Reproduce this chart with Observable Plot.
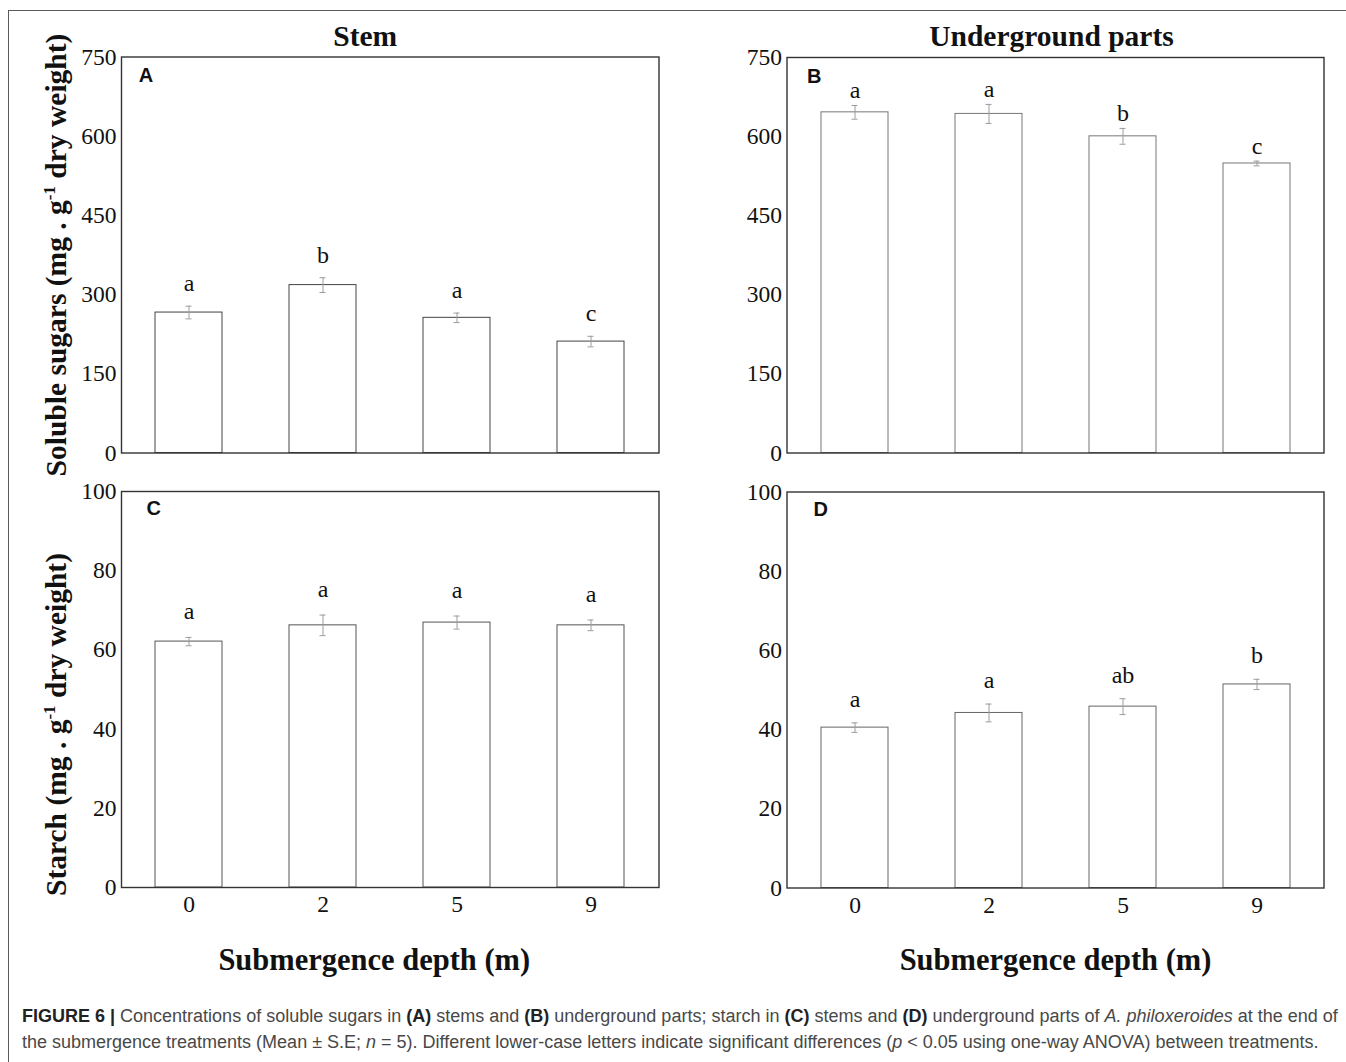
<!DOCTYPE html>
<html><head><meta charset="utf-8">
<script src="https://cdn.jsdelivr.net/npm/d3@7"></script>
<script src="https://cdn.jsdelivr.net/npm/@observablehq/plot@0.6"></script>
<style>
body{margin:0;background:#fff;}
#wrap{position:relative;width:1346px;height:1062px;overflow:hidden;background:#fff;}
#wrap svg{position:absolute;left:0;top:0;background:transparent;}
#border{position:absolute;left:8px;top:10px;width:1360px;height:1100px;border-top:1.5px solid #5a5a5a;border-left:1.5px solid #5a5a5a;}
#caption{position:absolute;left:22px;top:1003px;font-family:"Liberation Sans",Arial,sans-serif;font-size:18px;line-height:26px;color:#484848;white-space:nowrap;}
#caption b{color:#222;}
</style></head><body>
<div id="wrap"><div id="border"></div>
<div id="caption"><b>FIGURE 6 |</b> Concentrations of soluble sugars in <b>(A)</b> stems and <b>(B)</b> underground parts; starch in <b>(C)</b> stems and <b>(D)</b> underground parts of <i>A. philoxeroides</i> at the end of<br>the submergence treatments (Mean ± S.E; <i>n</i> = 5). Different lower-case letters indicate significant differences (<i>p</i> &lt; 0.05 using one-way ANOVA) between treatments.</div>
</div>
<script>
// ---- data ----
const depths = ["0", "2", "5", "9"];
const sugarTicks = [0, 150, 300, 450, 600, 750];
const starchTicks = [0, 20, 40, 60, 80, 100];

const stemSugar = [266, 318, 256, 211];
const stemSugarSE = [12, 14, 9, 10];
const stemSugarLetters = ["a", "b", "a", "c"];

const undSugar = [646, 643, 600.5, 549];
const undSugarSE = [13, 18, 15, 4.5];
const undSugarLetters = ["a", "a", "b", "c"];

const stemStarch = [62.1, 66.2, 66.9, 66.2];
const stemStarchSE = [1.05, 2.6, 1.65, 1.35];
const stemStarchLetters = ["a", "a", "a", "a"];

const undStarch = [40.5, 44.2, 45.8, 51.4];
const undStarchSE = [1.2, 2.25, 2.0, 1.3];
const undStarchLetters = ["a", "a", "ab", "b"];

const W = 1346, H = 1062;
const serif = "Liberation Serif, Times New Roman, serif";
const sans = "Liberation Sans, Arial, sans-serif";

function panel(o) {
  const data = depths.map((d, i) => ({depth: d, mean: o.means[i], se: o.ses[i], letter: o.letters[i]}));
  const [x0, y0, x1, y1] = o.frame;
  const errColor = "#9c9c9c";
  const marks = [
    Plot.barY(data, {x: "depth", y: "mean", fill: "white", stroke: o.barStroke, strokeWidth: 1}),
    Plot.ruleX(data, {x: "depth", y1: d => d.mean - d.se, y2: d => d.mean + d.se, stroke: errColor, strokeWidth: 1}),
    Plot.tickY(data, {x: "depth", y: d => d.mean + d.se, stroke: errColor, strokeWidth: 1, insetLeft: 30.5, insetRight: 30.5}),
    Plot.tickY(data, {x: "depth", y: d => d.mean - d.se, stroke: errColor, strokeWidth: 1, insetLeft: 30.5, insetRight: 30.5}),
    Plot.text(data, {x: "depth", y: d => d.mean + d.se, text: "letter", lineAnchor: "bottom", dy: -o.letterGap, fontSize: 24, fill: "#111"}),
    Plot.frame({stroke: "#333", strokeWidth: 1.4}),
    Plot.axisY({ticks: o.ticks, tickSize: 0, tickPadding: 5, label: null, fontSize: 23.5, fill: "#111"}),
    Plot.text([o.tag], {frameAnchor: "top-left", dx: o.tagDx, dy: o.tagDy, lineAnchor: "top", textAnchor: "start", fontFamily: sans, fontWeight: "bold", fontSize: 20, fill: "#111"})
  ];
  if (o.title) marks.push(Plot.text([o.title], {frameAnchor: "top", textAnchor: "middle", dx: o.titleDx, dy: o.titleDy, lineAnchor: "bottom", fontWeight: "bold", fontSize: 29.5, fill: "#111"}));
  if (o.ylab) marks.push(Plot.text([o.ylab], {frameAnchor: "left", textAnchor: "middle", lineAnchor: "middle", rotate: -90, dx: -64.5, dy: o.ylabDy, fontWeight: "bold", fontSize: 29.5, fill: "#111"}));
  if (o.xlab) {
    marks.push(Plot.axisX({tickSize: 0, tickPadding: 8, label: null, fontSize: 23.5, fill: "#111"}));
    marks.push(Plot.text([o.xlab], {frameAnchor: "bottom", textAnchor: "middle", dx: o.xlabDx, dy: 82, lineAnchor: "bottom", fontWeight: "bold", fontSize: 30.5, fill: "#111"}));
  }
  const chart = Plot.plot({
    width: W, height: H,
    marginLeft: x0, marginRight: W - x1, marginTop: y0, marginBottom: H - y1,
    style: {fontFamily: serif, fontSize: "22px", background: "transparent", overflow: "visible", color: "#111"},
    x: {type: "band", domain: depths, paddingInner: 0.5, paddingOuter: 0.25, axis: null},
    y: {domain: o.domain, axis: null},
    marks
  });
  // superscript "-1" in axis titles
  const ns = "http://www.w3.org/2000/svg";
  chart.querySelectorAll("text").forEach(t => {
    const s = t.textContent;
    const k = s.indexOf("g^-1");
    if (k < 0 || t.children.length) return;
    t.textContent = "";
    t.appendChild(document.createTextNode(s.slice(0, k + 1)));
    const sup = document.createElementNS(ns, "tspan");
    sup.setAttribute("dy", "-11");
    sup.setAttribute("font-size", "17");
    sup.textContent = "-1";
    t.appendChild(sup);
    const rest = document.createElementNS(ns, "tspan");
    rest.setAttribute("dy", "11");
    rest.textContent = s.slice(k + 4);
    t.appendChild(rest);
  });
  document.getElementById("wrap").appendChild(chart);
}

panel({frame: [121, 56.5, 658.5, 452.5], domain: [0, 750], ticks: sugarTicks,
  means: stemSugar, ses: stemSugarSE, letters: stemSugarLetters, letterGap: 15,
  barStroke: "#444", tag: "A", tagDx: 17.3, tagDy: 10.5,
  title: "Stem", titleDx: -25, titleDy: -11.5,
  ylab: "Soluble sugars (mg . g^-1 dry weight)", ylabDy: 0});

panel({frame: [786.5, 57, 1323.5, 452.5], domain: [0, 750], ticks: sugarTicks,
  means: undSugar, ses: undSugarSE, letters: undSugarLetters, letterGap: 7,
  barStroke: "#777", tag: "B", tagDx: 20, tagDy: 11,
  title: "Underground parts", titleDx: -4, titleDy: -12});

panel({frame: [121, 491, 658.5, 887], domain: [0, 100], ticks: starchTicks,
  means: stemStarch, ses: stemStarchSE, letters: stemStarchLetters, letterGap: 18,
  barStroke: "#555", tag: "C", tagDx: 25, tagDy: 9,
  ylab: "Starch (mg . g^-1 dry weight)", ylabDy: 35,
  xlab: "Submergence depth (m)", xlabDx: -16});

panel({frame: [786.5, 491.5, 1323.5, 887.5], domain: [0, 100], ticks: starchTicks,
  means: undStarch, ses: undStarchSE, letters: undStarchLetters, letterGap: 16,
  barStroke: "#666", tag: "D", tagDx: 26.5, tagDy: 10,
  xlab: "Submergence depth (m)", xlabDx: 0});
</script>
</body></html>
